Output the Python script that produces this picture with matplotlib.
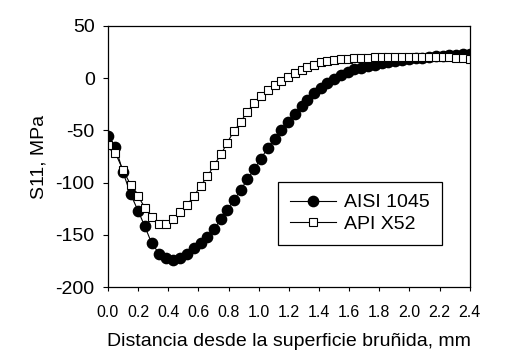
import matplotlib
matplotlib.use("Agg")
import matplotlib.pyplot as plt
from matplotlib.ticker import MultipleLocator

plt.rcParams['font.family'] = ['Liberation Sans', 'DejaVu Sans']
plt.rcParams['axes.unicode_minus'] = False

X_LABEL = "Distancia desde la superficie bruñida, mm"
Y_LABEL = "S11, MPa"
X_START = 0
X_END = 2.4
Y_START = -200
Y_END = 50
X_MAJOR_TICK = 0.2
Y_MAJOR_TICK = 50

dist = [0.00, 0.05, 0.10, 0.15, 0.20, 0.245, 0.29, 0.34, 0.385, 0.43,
        0.48, 0.525, 0.57, 0.615, 0.66, 0.705, 0.75, 0.79, 0.835, 0.88,
        0.925, 0.97, 1.015, 1.06, 1.105, 1.15, 1.195, 1.24, 1.285, 1.32,
        1.365, 1.41, 1.455, 1.50, 1.545, 1.59, 1.635, 1.68, 1.725, 1.77,
        1.815, 1.86, 1.905, 1.95, 1.995, 2.04, 2.085, 2.13, 2.175, 2.22,
        2.265, 2.31, 2.355, 2.40]

aisi_1045 = [-55, -66, -90, -111, -127, -142, -158, -168, -172, -174,
             -172, -168, -163, -158, -152, -144, -135, -126, -117, -107,
             -97, -87, -77, -67, -58, -50, -42, -34, -26.5, -20.5,
             -14.5, -9.5, -5, -1, 3, 6, 8.5, 10, 11.5, 13,
             14.2, 15.3, 16.3, 17.3, 18.2, 19, 19.7, 20.3, 20.8, 21.3,
             21.8, 22.2, 22.6, 22.8]

api_x52 = [-64, -72, -88, -102, -113, -124, -133, -140, -140, -135,
           -128, -121, -113, -103, -94, -83, -73, -62, -51, -42,
           -32, -24, -17, -11.5, -6.7, -2.8, 1.2, 5, 8, 10.5,
           13, 15, 16.3, 17.2, 18, 18.5, 18.9, 19.2, 19.5, 19.8,
           20, 20, 20.2, 20.3, 20.3, 20.3, 20.2, 20.2, 20, 20,
           19.8, 19.5, 19.2, 18.5]

fig = plt.figure(figsize=(5.14, 3.54), dpi=100)
ax = fig.add_axes([0.210, 0.189, 0.704, 0.738])

ax.plot(dist, aisi_1045, color="black", lw=0.8, marker="o", ms=7.4,
        mfc="black", mec="black", label="AISI 1045")
ax.plot(dist, api_x52, color="black", lw=0.8, marker="s", ms=5.6,
        mfc="white", mec="black", mew=0.8, label="API X52")

ax.set_xlim(X_START, X_END)
ax.set_ylim(Y_START, Y_END)
ax.xaxis.set_major_locator(MultipleLocator(X_MAJOR_TICK))
ax.yaxis.set_major_locator(MultipleLocator(Y_MAJOR_TICK))
ax.xaxis.set_major_formatter(plt.FormatStrFormatter("%.1f"))

ax.tick_params(axis="x", direction="out", length=3, width=0.8, pad=10,
               labelsize=11.5, top=False)
ax.tick_params(axis="y", direction="out", length=3.5, width=0.8, pad=6,
               labelsize=14, right=False)
for s in ax.spines.values():
    s.set_linewidth(0.9)

ax.set_xlabel(X_LABEL, fontsize=14, labelpad=9)
ax.set_ylabel(Y_LABEL, fontsize=14, labelpad=6)

leg = ax.legend(loc="upper left", bbox_to_anchor=(0.47, 0.402),
                borderaxespad=0, fancybox=False, edgecolor="black",
                fontsize=14, handlelength=2.4, handletextpad=0.4,
                borderpad=0.6, labelspacing=0.2, framealpha=1)
leg.get_frame().set_linewidth(0.9)

plt.savefig("out.png", dpi=100)
